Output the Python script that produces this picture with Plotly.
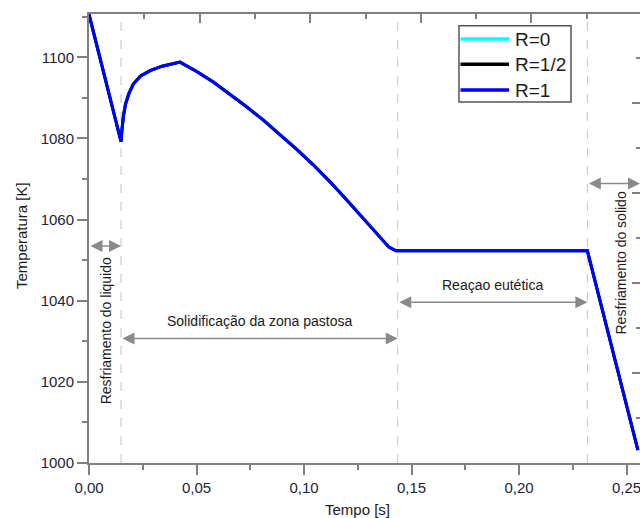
import plotly.graph_objects as go

# ---- data ----
time_s = [0.0, 0.0149, 0.0153, 0.0160, 0.0170, 0.0185, 0.0206, 0.0240, 0.0284,
          0.0340, 0.0423, 0.0501, 0.0578, 0.0656, 0.0733, 0.0811, 0.0888, 0.0966,
          0.1043, 0.1121, 0.1199, 0.1276, 0.1353, 0.1395, 0.1428, 0.2318, 0.2553]
temp_K = [1110.6, 1079.2, 1082.0, 1085.5, 1088.5, 1091.0, 1093.4, 1095.4, 1096.7,
          1097.8, 1098.8, 1096.5, 1093.9, 1090.9, 1087.8, 1084.5, 1081.0, 1077.3,
          1073.5, 1069.3, 1064.8, 1060.3, 1055.6, 1053.2, 1052.3, 1052.3, 1003.2]
series_names = ["R=0", "R=1/2", "R=1"]
series_colors = ["#00ffff", "#000000", "#0000ff"]

phase_bounds = [0.0149, 0.1436, 0.2318]
phase_labels = ["Resfriamento do liquido", "Solidificação da zona pastosa",
                "Reaçao eutética", "Resfriamento do solido"]
phase_arrow_y = [1053.5, 1030.7, 1039.6, 1068.9]
phase_label_pos = [(0.0079, 1032.7), (0.0794, 1035.0), (0.1877, 1043.9), (0.2474, 1049.4)]
phase_label_angle = [-90, 0, 0, -90]

X_MAX = 0.25628
Y_MIN, Y_MAX = 1000, 1110.67

AX = "#808080"
TXT = "#1c2438"
FONT = "Liberation Sans, Arial, sans-serif"

# plot area: 551 x 449 px, left edge at 89 px, bottom edge at 463 px
PW, PH, L0, B0 = 551, 449, 89, 463
def px(xp):
    return (xp - L0) / PW
def py(yp):
    return (B0 - yp) / PH

fig = go.Figure()
for name, col in zip(series_names, series_colors):
    fig.add_trace(go.Scatter(x=time_s, y=temp_K, mode="lines", name=name,
                             line=dict(color=col, width=3), showlegend=False))
# empty trace that registers the mirror (top/right) axes
fig.add_trace(go.Scatter(x=[None], y=[None], xaxis="x2", yaxis="y2",
                         showlegend=False, hoverinfo="skip"))

# dashed phase boundaries
for b in phase_bounds:
    fig.add_shape(type="line", x0=b, x1=b, y0=0, y1=1, xref="x", yref="paper",
                  line=dict(color="#c4c4c4", width=1, dash="dash"), layer="below")

# double arrows
edges = [0.0] + phase_bounds + [X_MAX]
for i, ay in enumerate(phase_arrow_y):
    fig.add_annotation(x=edges[i + 1], y=ay, ax=edges[i], ay=ay, xref="x", yref="y",
                       axref="x", ayref="y", text="", showarrow=True,
                       arrowside="end+start", arrowhead=2, arrowsize=1.6,
                       arrowwidth=1.5, arrowcolor="#8a8a8a")

for lab, (lx, ly), ang in zip(phase_labels, phase_label_pos, phase_label_angle):
    fig.add_annotation(x=lx, y=ly, xref="x", yref="y", text=lab, showarrow=False,
                       textangle=ang, xanchor="center", yanchor="middle",
                       font=dict(family=FONT, size=14, color="#1a1a1a"))

# axis titles
fig.add_annotation(x=px(21), y=py(236), xref="paper", yref="paper", text="Temperatura [K]",
                   showarrow=False, textangle=-90, xanchor="center", yanchor="middle",
                   font=dict(family=FONT, size=15, color="#1a1a1a"))
fig.add_annotation(x=px(357), y=py(509), xref="paper", yref="paper", text="Tempo [s]",
                   showarrow=False, xanchor="center", yanchor="middle",
                   font=dict(family=FONT, size=15, color="#1a1a1a"))

# legend box (drawn like the original's framed legend)
fig.add_shape(type="rect", xref="paper", yref="paper", x0=px(459), x1=px(571),
              y0=py(102), y1=py(25.7), line=dict(color="#555555", width=1.5),
              fillcolor="white", layer="above")
row_y = [39, 64.3, 90]
for name, col, ry in zip(series_names, series_colors, row_y):
    fig.add_shape(type="line", xref="paper", yref="paper", x0=px(460.5), x1=px(509),
                  y0=py(ry), y1=py(ry), line=dict(color=col, width=3.5), layer="above")
    fig.add_annotation(x=px(513), y=py(ry + 0.5), xref="paper", yref="paper", text=name,
                       showarrow=False, xanchor="left", yanchor="middle",
                       font=dict(family=FONT, size=19, color="#1a1a1a"))

fig.update_layout(
    width=640, height=518,
    margin=dict(l=L0, r=0, t=14, b=518 - B0, autoexpand=False),
    paper_bgcolor="white", plot_bgcolor="white",
    separators=",.",
    font=dict(family=FONT, color=TXT),
    showlegend=False,
    xaxis=dict(range=[0, X_MAX], showline=True, linecolor=AX, linewidth=2,
               ticks="outside", ticklen=10, tickwidth=2, tickcolor=AX,
               tick0=0, dtick=0.05, tickformat=".2f", automargin=False,
               ticklabeloverflow="allow",
               minor=dict(dtick=0.025, ticks="outside", ticklen=5, tickwidth=2, tickcolor=AX),
               showgrid=False, zeroline=False,
               tickfont=dict(family=FONT, size=15, color=TXT)),
    yaxis=dict(range=[Y_MIN, Y_MAX], showline=True, linecolor=AX, linewidth=2,
               ticks="outside", ticklen=10, tickwidth=2, tickcolor=AX,
               tick0=1000, dtick=20, automargin=False,
               minor=dict(dtick=10, ticks="outside", ticklen=5, tickwidth=2, tickcolor=AX),
               showgrid=False, zeroline=False,
               tickfont=dict(family=FONT, size=15, color=TXT)),
    xaxis2=dict(overlaying="x", side="top", anchor="y2", range=[0, 551],
                showline=True, linecolor=AX, linewidth=2, automargin=False,
                ticks="inside", ticklen=9, tickwidth=2, tickcolor=AX,
                tick0=0, dtick=110.6,
                minor=dict(dtick=55.3, ticks="inside", ticklen=5, tickwidth=2, tickcolor=AX),
                showticklabels=False, showgrid=False, zeroline=False),
    yaxis2=dict(overlaying="y", side="right", anchor="x2", range=[0, 449],
                showline=False, automargin=False,
                ticks="inside", ticklen=8, tickwidth=2, tickcolor=AX,
                tick0=0, dtick=90,
                minor=dict(dtick=45, ticks="inside", ticklen=4, tickwidth=2, tickcolor=AX),
                showticklabels=False, showgrid=False, zeroline=False),
)

# remove the default 8px page margin so the 640x518 figure fills the window exactly
fig.write_html("out.html", config={"displayModeBar": False},
               post_script="document.body.style.margin='0';"
                           "document.documentElement.style.overflow='hidden';")
